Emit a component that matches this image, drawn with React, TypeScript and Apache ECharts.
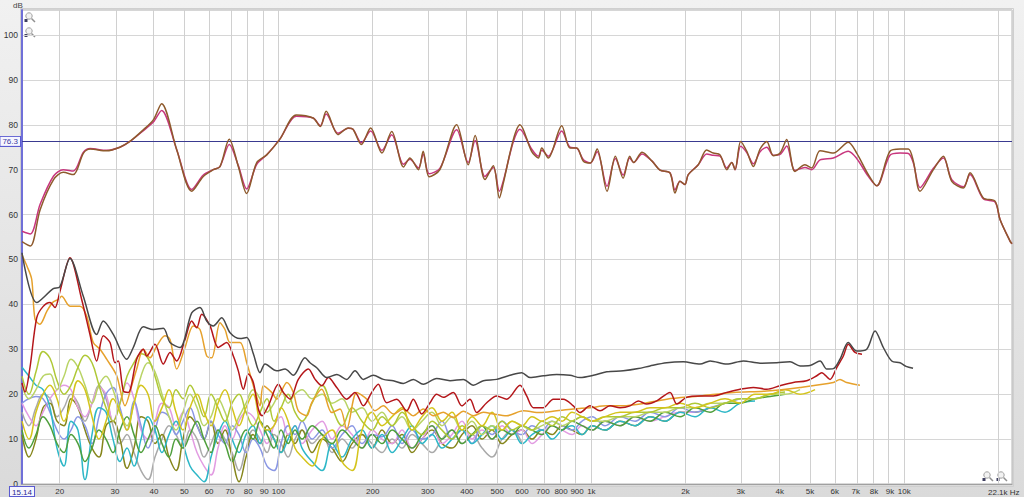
import React, { useEffect, useRef } from "react";
import * as echarts from "echarts";

// ---------- data ----------
const topFreqs = [15.14, 16.1, 17.3, 19.1, 20.5, 22.1, 23.8, 25.0, 28.2, 31.1, 33.5, 37.0, 39.8, 42.3, 47.3, 52.8, 57.5, 61.9, 65.0, 69.6,
  74.4, 79.1, 85.2, 91.7, 101, 114, 129, 136, 142, 155, 167, 173, 184, 197, 214, 230, 251, 263, 280, 290,
  303, 328, 371, 404, 425, 457, 486, 508, 523, 563, 591, 644, 677, 694, 728, 804, 854, 898, 943, 993,
  1043, 1122, 1193, 1263, 1326, 1365, 1452, 1563, 1657, 1783, 1850, 1919, 1990, 2040, 2196, 2336, 2452, 2578, 2708, 2810,
  2879, 3000, 3138, 3294, 3460, 3635, 3816, 4010, 4212, 4474, 4816, 5059, 5381, 5934, 6624, 7046, 7677, 8166, 9000, 9696,
  10306, 10693, 11233, 12389, 13335, 14184, 15448, 16228, 17896, 19506, 20236, 21782, 22100];

const responseA = [54.0, 53.0, 61.1, 67.8, 69.4, 68.9, 73.7, 74.6, 74.2, 75.0, 76.3, 78.9, 81.1, 84.7, 74.4, 65.2, 68.5, 70.0, 70.7, 76.8,
  70.7, 64.7, 71.6, 73.3, 76.8, 82.2, 81.5, 79.6, 83.0, 77.8, 79.3, 79.0, 75.6, 79.3, 73.7, 78.5, 70.6, 72.6, 70.0, 74.1,
  68.4, 70.0, 80.0, 71.1, 77.6, 67.8, 70.9, 63.7, 67.0, 76.7, 80.0, 74.1, 72.6, 74.8, 72.6, 79.8, 74.8, 74.8, 71.9, 71.5,
  74.6, 65.2, 73.0, 68.1, 73.0, 71.6, 73.9, 71.9, 69.9, 69.3, 64.8, 67.4, 66.7, 68.9, 71.1, 74.4, 73.7, 73.3, 70.0, 71.6,
  70.0, 76.3, 74.1, 70.7, 74.6, 76.3, 73.1, 73.7, 76.7, 69.6, 71.1, 70.4, 74.2, 73.7, 76.1, 73.7, 68.9, 66.4, 74.1, 74.6,
  74.6, 71.9, 65.2, 70.0, 73.0, 67.4, 65.9, 69.3, 63.7, 63.0, 58.9, 54.1, 53.5];

const responseB = [56.3, 55.7, 62.3, 68.6, 70.0, 69.7, 73.9, 74.7, 74.3, 75.0, 76.3, 78.7, 80.6, 83.2, 74.4, 65.6, 68.8, 70.0, 70.7, 75.6,
  70.9, 65.7, 71.2, 73.3, 76.8, 81.9, 81.5, 79.8, 82.4, 78.1, 79.2, 79.0, 76.0, 78.6, 74.3, 77.8, 71.2, 72.3, 70.4, 73.5,
  69.1, 70.3, 78.9, 71.6, 76.5, 68.5, 70.5, 65.2, 67.5, 76.2, 79.0, 74.6, 73.0, 74.3, 73.0, 78.6, 75.0, 74.8, 72.2, 71.5,
  74.0, 66.3, 72.5, 68.8, 72.6, 71.6, 73.5, 71.9, 69.9, 69.3, 65.5, 67.4, 66.7, 68.9, 71.1, 73.5, 73.2, 73.0, 70.4, 71.6,
  70.0, 75.2, 73.8, 71.3, 74.0, 75.0, 73.2, 73.4, 75.3, 69.8, 70.5, 70.0, 72.2, 72.6, 74.1, 72.5, 68.5, 66.4, 73.2, 73.7,
  73.6, 71.5, 66.0, 70.3, 72.6, 67.8, 66.2, 68.9, 63.5, 62.8, 58.9, 54.1, 53.5];

// THD: [Hz, dB]
const thd = [[15.14, 51.5], [16.87, 40.4], [19.06, 43.5], [20.0, 43.9], [21.55, 50.2], [23.77, 41.8], [26.23, 33.3], [27.54, 36.3], [29.64, 33.3], [32.72, 27.8],
  [34.34, 30.4], [36.97, 35.0], [39.79, 34.4], [42.83, 34.7], [45.0, 31.5], [48.43, 30.4], [52.79, 38.1], [56.1, 39.3], [58.96, 36.3], [61.89, 35.2],
  [65.83, 37.0], [70.0, 33.7], [75.33, 32.4], [79.15, 32.6], [83.08, 29.0], [87.28, 24.8], [90.56, 26.7], [98.7, 25.2], [104.9, 25.6], [111.5, 24.2],
  [121.5, 28.1], [126.1, 27.0], [132.5, 25.9], [142.6, 23.7], [153.5, 24.4], [165.2, 23.3], [175.6, 25.2], [186.7, 23.3], [200.9, 24.2], [216.3, 23.3],
  [232.8, 23.0], [250.6, 22.4], [269.7, 23.3], [290.3, 22.2], [320.3, 23.5], [353.4, 23.0], [389.7, 23.3], [419.4, 22.0], [451.5, 23.0], [498.1, 23.3],
  [549.4, 24.2], [598.9, 24.8], [636.6, 23.7], [702.1, 24.1], [774.6, 24.4], [854.5, 24.2], [919.8, 23.7], [1015, 24.2], [1120, 25.0], [1265, 25.2],
  [1413, 25.7], [1540, 26.3], [1741, 27.0], [1968, 27.2], [2225, 26.7], [2395, 27.4], [2708, 26.7], [3060, 27.4], [3460, 26.9], [3911, 27.0],
  [4315, 27.2], [4644, 26.3], [4999, 26.4], [5381, 27.4], [5653, 25.6], [5935, 25.7], [6233, 27.8], [6624, 31.5], [7046, 29.6], [7587, 30.0],
  [8065, 34.1], [8573, 30.4], [9119, 27.4], [9696, 27.0], [10133, 26.2], [10669, 25.8]];

// 2nd harmonic: [Hz, dB]
const h2 = [[15.14, 22.5], [15.48, 20.5], [16.06, 26.0], [16.87, 37.0], [17.67, 39.5], [18.6, 40.4], [19.3, 39.3], [20.03, 43.0], [21.55, 50.4], [23.49, 41.1],
  [24.97, 33.3], [26.23, 27.4], [27.54, 33.0], [28.94, 31.5], [30.02, 27.0], [30.75, 27.4], [31.93, 20.7], [33.1, 20.4], [35.21, 27.8], [36.97, 30.0],
  [37.91, 28.5], [40.29, 31.1], [42.83, 26.7], [45.0, 29.3], [47.27, 27.4], [50.25, 32.2], [52.79, 36.3], [54.77, 34.8], [56.84, 37.8], [60.4, 35.2],
  [64.2, 30.4], [68.3, 31.5], [71.71, 28.5], [74.4, 25.2], [77.19, 21.1], [80.08, 24.5], [83.08, 22.6], [86.2, 16.7], [88.57, 15.2], [92.78, 17.4],
  [99.9, 22.2], [103.6, 20.4], [108.9, 18.9], [115.7, 23.3], [124.6, 25.6], [130.9, 23.3], [137.5, 21.9], [144.3, 23.7], [153.5, 21.5], [165.2, 18.9],
  [175.6, 20.4], [186.7, 17.4], [198.6, 20.4], [208.4, 22.2], [221.7, 18.1], [238.7, 18.9], [256.9, 16.3], [269.7, 18.9], [286.9, 15.6], [305, 18.1],
  [320.3, 20.0], [336.3, 19.3], [362, 20.4], [385.2, 17.4], [409.3, 18.9], [429.9, 15.9], [462.9, 18.1], [498.1, 19.6], [536.2, 18.9], [591.4, 22.0],
  [621.2, 19.6], [652.3, 17.0], [702.1, 17.0], [755.7, 18.9], [813.4, 18.9], [875.5, 17.4], [919.8, 15.9], [990.1, 17.4], [1066, 16.3], [1147, 17.4],
  [1235, 17.0], [1329, 17.4], [1413, 18.5], [1503, 17.8], [1617, 18.5], [1784, 20.4], [1875, 17.8], [2016, 19.3], [2225, 19.6], [2453, 19.6],
  [2708, 20.4], [2986, 21.1], [3293, 21.5], [3635, 21.1], [4008, 21.9], [4419, 22.6], [4876, 23.0], [5252, 24.1], [5445, 24.8], [5792, 23.3],
  [6084, 25.9], [6388, 28.5], [6624, 31.1], [6960, 29.3], [7327, 28.9]];

// 3rd harmonic: [Hz, dB]
const h3 = [[15.14, 51.0], [15.71, 48.5], [16.26, 45.6], [16.66, 36.7], [17.28, 35.6], [18.19, 38.5], [19.02, 40.5], [19.78, 41.1], [20.27, 41.8], [21.55, 39.6],
  [23.2, 39.6], [24.37, 37.4], [25.58, 31.5], [26.88, 30.0], [28.23, 27.8], [30.4, 24.1], [32.31, 17.4], [33.94, 21.9], [35.21, 25.6], [36.97, 30.0],
  [38.84, 28.1], [40.79, 30.7], [43.36, 33.0], [45.0, 32.2], [47.27, 25.6], [50.25, 30.4], [53.41, 35.2], [56.1, 34.4], [58.96, 28.5], [61.16, 28.1],
  [65.02, 35.9], [67.46, 34.4], [70.0, 31.5], [75.33, 31.5], [79.15, 27.0], [85.2, 19.3], [87.28, 17.4], [89.42, 21.9], [95.13, 20.4], [98.7, 18.9],
  [106.3, 22.6], [111.5, 20.4], [115.7, 16.3], [123.1, 15.2], [127.7, 18.1], [137.5, 21.1], [148, 15.9], [157.3, 16.7], [165.2, 12.2], [177.8, 20.4],
  [191.4, 18.9], [203.4, 16.3], [216.3, 17.4], [232.8, 15.6], [250.6, 16.7], [269.7, 15.2], [290.3, 16.7], [312.5, 15.2], [336.3, 16.0], [362, 14.8],
  [389.7, 16.2], [419.4, 15.2], [451.5, 16.0], [485.9, 15.6], [536.2, 15.2], [606, 16.3], [685.2, 15.9], [774.6, 16.3], [875.5, 16.7], [990.1, 17.0],
  [1120, 17.4], [1265, 17.4], [1431, 17.8], [1741, 18.9], [2225, 19.6], [2843, 20.4], [3635, 20.7], [4644, 21.5], [5935, 22.6], [6233, 23.3],
  [6546, 22.6], [7218, 22.0]];

// shared frequency grid of the higher harmonics (Hz)
const harmFreqs = [15.14, 15.94, 16.78, 17.67, 18.6, 19.59, 20.62, 21.71, 22.86, 24.07,
  25.34, 26.68, 28.09, 29.58, 31.14, 32.79, 34.52, 36.35, 38.27, 40.29,
  42.42, 44.67, 47.03, 49.52, 52.13, 54.89, 57.8, 60.85, 64.07, 67.46,
  71.03, 74.78, 78.74, 82.9, 87.28, 91.9, 96.76, 101.9, 107.3, 112.9,
  118.9, 128, 137.8, 148.3, 159.6, 171.8, 184.9, 199, 214.2, 230.6,
  248.2, 267.1, 287.5, 309.5, 333.1, 358.6, 386, 415.4, 447.2, 481.3,
  518.1, 557.6, 600.2, 646.1, 695.4, 748.5, 805.7, 867.2, 933.5, 1005,
  1106, 1235, 1379, 1540, 1720, 1920, 2144, 2395, 2674, 2986,
  3335, 3724, 4159, 4644, 5187];

const h4 = [14, 10, 16, 20, 22, 19, 14, 18, 23, 21,
  15, 10, 14, 19, 16, 12, 18, 22, 20, 14,
  17, 21, 16, 12, 17, 20, 16, 13, 18, 21,
  17, 13, 17, 20, 14, 12, 13, 17, 14, 8,
  6, 4, 10, 12, 5, 3, 12, 16, 13, 15,
  17, 12, 15, 17, 14, 16, 12, 15, 13, 16,
  12, 14, 13, 15, 14, 15, 14, 16, 15, 14,
  15, 16, 16, 17, 17, 18, 17, 18, 19, 18,
  20, 20, 21, 20, 21];

const h5 = [24, 20, 25, 29.5, 28, 23, 20, 22, 26, 28.7,
  27, 22, 17, 14, 18, 24, 27, 29, 28, 24,
  19, 17, 21, 19, 22, 19, 15, 20, 17, 14,
  18, 20, 16, 13, 16, 19, 14, 17, 20, 16,
  14, 18, 22, 17, 13, 17, 14, 12, 15, 13,
  16, 13, 11, 14, 12, 10, 13, 11, 13, 12,
  14, 12, 13, 12, 14, 13, 15, 14, 15, 14,
  15, 15, 16, 16, 17, 17, 18, 17, 18, 19,
  19, 20, 20.5, null, null];

const h5b = [22, 19, 21, 24, 24.5, 21, 24, 27.8, 26, 22,
  18, 22, 24, 21, 16, 13, 18, 24, 27, 25,
  20, 15, 12, 16, 20, 17, 13, 15, 19, 16,
  12, 15, 18, 21, 19, 16, 18, 21, 18, 20,
  21, 19, 20, 18, 19, 16, 17, 14, 16, 13,
  15, 12, 14, 16, 13, 15, 12, 14, 11, 13,
  12, 14, 13, 12, 13, 14, 13, 14, 15, 14,
  14, 15, 15, 16, 16, 17, 17, 18, 18, 19,
  19, 20, 20, 21, null];

const h6 = [12, 8, 11, 15, 13, 9, 7, 11, 9, 5,
  8, 12, 10, 7, 12, 15, 11, 7, 10, 13,
  9, 6, 10, 8, 11, 14, 10, 7, 12, 9,
  5, 9, 12, 10, 14, 11, 8, 12, 9, 12,
  10, 13, 11, 9, 12, 10, 8, 11, 9, 12,
  10, 8, 11, 13, 10, 12, 9, 11, 13, 10,
  12, 11, 13, 12, 11, 13, 12, 14, 13, 12,
  14, 13, 15, 14, 16, 15, 17, 16, 18, 18,
  19, 19.5, 20, null, null];

const h7 = [26, 24, 22, 21, 17, 8, 4, 14, 12, 1,
  11, 17, 16, 10, 5, 8, 4, 10, 15, 12,
  7, 11, 14, 9, 4, 2, 0.5, 6, 11, 14,
  10, 7, 11, 13, 9, 12, 10, 7, 10, 13,
  8, 5, 3, 9, 6, 10, 12, 8, 11, 7,
  10, 13, 9, 11, 8, 10, 12, 9, 11, 13,
  10, 12, 9, 11, 12, 10, 12, 13, 11, 13,
  12, 14, 13, 15, 14, 16, 15, 17, 16, 18,
  18.5, null, null, null, null];

const h8 = [18, 19, 19.5, 19, 16, 12, 10, 12, 15, 13,
  9, 15, 20, 21.5, 17, 12, 18.5, 13, 8, 12,
  16, 15, 11, 14, 17, 13, 10, 14, 11, 9,
  13, 11, 7, 10, 8, 4, 3, 9, 13, 11,
  14, 10, 12, 8, 11, 13, 9, 11, 10.5, 13,
  9, 12, 10, 11, 14, 10, 12, 9, 13, 11,
  14, 12, 11, 13, 12, 14, 13, 12, 14, 15,
  13, 15, 14, 16, 15, 17, 16, 17, 18, 19,
  null, null, null, null, null];

const h9 = [18, 15, 13, 16, 19, 21, 22, 21, 17, 15,
  18, 21.5, 20, 14, 18, 22.5, 19, 12, 10, 14,
  18, 17, 13, 16, 12, 7, 4, 2, 8, 13,
  10, 14, 16, 15, 12, 9, 13, 15, 11, 13,
  9, 12, 14, 10, 13, 11, 8, 12, 10, 9,
  12, 8, 10, 13, 9, 11, 14, 10, 12, 10,
  13, 11, 12, 9, 11, 13, 12, 11, 13, 12,
  14, 13, 15, 14, 15, 16, 16, null, null, null,
  null, null, null, null, null];

const oliveTrace = [11, 6, 10, 17, 18, 14, 13, 19, 17, 12,
  8, 6, 13, 14, 10, 3.5, 8, 15, 14, 9,
  11, 6, 3, 10, 15, 13, 10, 14, 9, 12,
  6, 0.5, 6, 11, 9, 13, 10, 7, 11, 9,
  12, 7, 10, 8, 5, 9, 11, 8, 12, 9,
  11, 7, 10, 12, 9, 8, 11, 13, 10, 12,
  9, 11, 12, 10, 12, 11, 13, 12, 11, 13,
  12, 14, 13, 15, 14, 16, 16, 17, null, null,
  null, null, null, null, null];

const grayTrace = [16, 13, 17, 20, 19, 15, 17, 20, 18, 14,
  18, 22, 19, 13, 9, 11, 7, 3, 1, 6,
  10, 13, 11, 8, 12, 10, 6, 9, 12, 10,
  7, 3, 8, 12, 10, 7, 11, 9, 6, 10,
  12, 9, 11, 7, 10, 8, 11, 9, 7, 10,
  8, 11, 9, 7, 10, 12, 9, 11, 8, 6,
  10, 12, 9, null, null, null, null, null, null, null,
  null, null, null, null, null, null, null, null, null, null,
  null, null, null, null, null];

const gridFreqs = [20, 30, 40, 50, 60, 70, 80, 90, 100, 200, 300, 400, 500, 600, 700, 800, 900,
  1000, 2000, 3000, 4000, 5000, 6000, 7000, 8000, 9000, 10000, 20000];
const tickFreqs = [15.14, 20, 30, 40, 50, 60, 70, 80, 90, 100, 200, 300, 400, 500, 600, 700, 800, 900,
  1000, 2000, 3000, 4000, 5000, 6000, 7000, 8000, 9000, 10000];
const tickLabels = ["15.14", "20", "30", "40", "50", "60", "70", "80", "90", "100", "200", "300", "400", "500", "600", "700", "800", "900",
  "1k", "2k", "3k", "4k", "5k", "6k", "7k", "8k", "9k", "10k"];
const fMin = 15.14;
const fMax = 22100;
const dbMax = 105.56;
const refLevel = 76.3;

// ---------- helpers ----------
const FONT = "Liberation Sans, Arial, sans-serif";
const lg = (f: number) => Math.log10(f);
const onGrid = (fs: number[], vs: (number | null)[]) =>
  fs.map((f, i) => [lg(f), vs[i]]).filter((p) => p[1] !== null && p[1] !== undefined);
const fromPairs = (arr: number[][]) => arr.map(([f, v]) => [lg(f), v]);

const lineSeries = (name: string, data: any[], color: string, smooth = 0.3, z = 2, width = 1.5) => ({
  name,
  type: "line",
  data,
  showSymbol: false,
  symbol: "none",
  smooth,
  z,
  lineStyle: { color, width },
  itemStyle: { color },
  silent: true,
});

function magnifier(x: number, y: number) {
  return {
    type: "group",
    x,
    y,
    silent: true,
    children: [
      { type: "circle", shape: { cx: 5, cy: 4, r: 3.2 }, style: { fill: "#f2f2f2", stroke: "#a0a0a0", lineWidth: 1 } },
      { type: "line", shape: { x1: 7.5, y1: 6.5, x2: 11, y2: 10 }, style: { stroke: "#909090", lineWidth: 1.5 } },
      { type: "rect", shape: { x: 0.5, y: 7, width: 3, height: 3 }, style: { fill: "#404060" } },
    ],
  };
}

export default function App() {
  const ref = useRef<HTMLDivElement>(null);
  useEffect(() => {
    const chart = echarts.init(ref.current as HTMLDivElement, null, { renderer: "svg" });
    const option: any = {
      animation: false,
      backgroundColor: {
        type: "linear", x: 0, y: 0, x2: 0, y2: 1,
        colorStops: [{ offset: 0, color: "#f1f1f1" }, { offset: 1, color: "#dadada" }],
      },
      textStyle: { fontFamily: FONT },
      grid: { left: 22, right: 12, top: 10, bottom: 12, show: true, backgroundColor: "#ffffff", borderColor: "#b4b4b4", borderWidth: 1 },
      xAxis: {
        type: "value",
        min: lg(fMin),
        max: lg(fMax),
        splitLine: { show: false },
        axisTick: { show: false },
        axisLine: { show: true, onZero: false, lineStyle: { color: "#a0a0a0", width: 1 } },
        axisLabel: {
          customValues: tickFreqs.map(lg),
          fontSize: 8,
          color: "#333",
          margin: 3,
          formatter: (v: number) => {
            const i = tickFreqs.findIndex((f) => Math.abs(lg(f) - v) < 1e-6);
            if (i < 0) return "";
            return i === 0 ? "{box|" + tickLabels[i] + "}" : tickLabels[i];
          },
          rich: {
            box: { fontSize: 8, color: "#2a2a90", borderColor: "#5a5ad0", borderWidth: 1, backgroundColor: "#f6f6ff", padding: [1, 2, 0, 2] },
          },
        },
      },
      yAxis: {
        type: "value",
        min: 0,
        max: dbMax,
        interval: 10,
        splitLine: { show: true, lineStyle: { color: "#d6d6d6", width: 1 } },
        axisLine: { show: true, lineStyle: { color: "#7070d8", width: 2 } },
        axisTick: { show: false },
        axisLabel: {
          fontSize: 8.5,
          color: "#333",
          margin: 4,
          showMaxLabel: false,
          formatter: (v: number) => (Math.abs(v % 10) < 1e-6 ? String(v) : ""),
        },
      },
      graphic: [
        { type: "text", left: 13, top: 1, style: { text: "dB", fontSize: 8, fill: "#444", fontFamily: FONT }, silent: true },
        { type: "text", left: 988, top: 488, style: { text: "22.1k Hz", fontSize: 8, fill: "#333", fontFamily: FONT }, silent: true },
        { type: "rect", shape: { x: 20.5, y: 8.5, width: 993, height: 478 }, style: { fill: "none", stroke: "#cfcfcf", lineWidth: 1 }, silent: true },
        magnifier(24, 12),
        magnifier(24, 27),
        magnifier(982, 471),
        magnifier(996, 471),
      ],
      series: [
        {
          name: "grid",
          type: "line",
          data: [],
          z: 1,
          silent: true,
          markLine: {
            silent: true,
            symbol: ["none", "none"],
            label: { show: false },
            lineStyle: { color: "#d0d0d0", width: 1, type: "solid" },
            data: gridFreqs.map((f) => ({ xAxis: lg(f) })),
          },
        },
        lineSeries("noise", onGrid(harmFreqs, grayTrace), "#a9a9a9", 0.4),
        lineSeries("olive", onGrid(harmFreqs, oliveTrace), "#86861c", 0.4),
        lineSeries("H9", onGrid(harmFreqs, h9), "#e29ce2", 0.4),
        lineSeries("H8", onGrid(harmFreqs, h8), "#8a97e4", 0.4),
        lineSeries("H7", onGrid(harmFreqs, h7), "#2db7c7", 0.4),
        lineSeries("H6", onGrid(harmFreqs, h6), "#4f9f3c", 0.4),
        lineSeries("H5b", onGrid(harmFreqs, h5b), "#b9d466", 0.4),
        lineSeries("H5", onGrid(harmFreqs, h5), "#afc836", 0.4),
        lineSeries("H4", onGrid(harmFreqs, h4), "#d4c41c", 0.4),
        lineSeries("H3", fromPairs(h3), "#e6a12c", 0.3, 3),
        lineSeries("H2", fromPairs(h2), "#b4161a", 0.3, 4),
        lineSeries("THD", fromPairs(thd), "#484848", 0.3, 5),
        {
          ...lineSeries("responseB", onGrid(topFreqs, responseB), "#c8367e", 0.3, 6),
          markLine: {
            silent: true,
            symbol: ["none", "none"],
            lineStyle: { color: "#3a3a90", width: 1, type: "solid" },
            label: {
              show: true,
              position: "start",
              distance: 2,
              formatter: String(refLevel),
              fontSize: 8,
              color: "#3a3aa0",
              borderColor: "#5a5ad0",
              borderWidth: 1,
              backgroundColor: "#f6f6ff",
              padding: [1, 2, 0, 2],
            },
            data: [{ yAxis: refLevel }],
          },
        },
        lineSeries("responseA", onGrid(topFreqs, responseA), "#8e5a2c", 0.3, 7),
      ],
    };
    chart.setOption(option);
    return () => chart.dispose();
  }, []);
  return <div ref={ref} style={{ position: "absolute", left: 0, top: 0, width: 1024, height: 497 }} />;
}
